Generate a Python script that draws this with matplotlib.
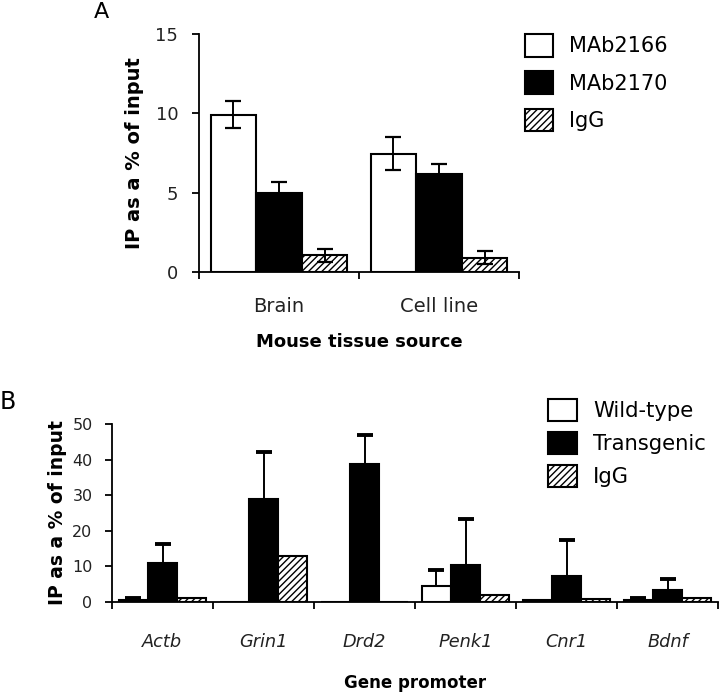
import numpy as np
import matplotlib
matplotlib.use("Agg")
import matplotlib.pyplot as plt
from matplotlib import font_manager

# fonts: narrow face for panel B if it is installed
have = {f.name for f in font_manager.fontManager.ttflist}
if 'Liberation Sans Narrow' in have:
    narrow, k = 'Liberation Sans Narrow', 1.0
else:
    narrow, k = 'DejaVu Sans', 0.8

plt.rcParams['font.family'] = ['DejaVu Sans']
plt.rcParams['hatch.linewidth'] = 1.0

# Panel A data
tissues = ['Brain', 'Cell line']
series_a = ['MAb2166', 'MAb2170', 'IgG']
mab2166 = [9.9, 7.45]
mab2166_err = [0.85, 1.05]
mab2170 = [4.95, 6.15]
mab2170_err = [0.7, 0.65]
igg_a = [1.05, 0.9]
igg_a_err = [0.4, 0.4]

# Panel B data (nan = no error bar shown)
genes = ['Actb', 'Grin1', 'Drd2', 'Penk1', 'Cnr1', 'Bdnf']
series_b = ['Wild-type', 'Transgenic', 'IgG']
wild = [0.7, 0.0, 0.0, 4.5, 0.7, 0.7]
wild_err = [0.4, np.nan, np.nan, 4.5, np.nan, 0.4]
trans = [10.9, 28.8, 38.8, 10.4, 7.3, 3.3]
trans_err = [5.4, 13.2, 8.1, 13.0, 10.2, 3.1]
igg_b = [1.1, 13.0, 0.0, 2.1, 0.8, 1.1]

W, H = 720, 698
fig = plt.figure(figsize=(W / 100, H / 100), dpi=100)

styles = [dict(facecolor='white', edgecolor='black'),
          dict(facecolor='black', edgecolor='black'),
          dict(facecolor='white', edgecolor='black', hatch='/////')]


def setup(ax, n):
    for s in ['top', 'right']:
        ax.spines[s].set_visible(False)
    for s in ['left', 'bottom']:
        ax.spines[s].set_linewidth(1.3)
    ax.set_xlim(-0.5, n - 0.5)
    ax.set_xticks(np.arange(n))
    ax.set_xticks(np.arange(n + 1) - 0.5, minor=True)
    ax.tick_params(axis='x', which='major', length=0)
    ax.tick_params(axis='x', which='minor', length=5, width=1.3, direction='out')
    ax.tick_params(axis='y', length=5, width=1.3, direction='out')


# ---- Panel A ----
axA = fig.add_axes([199 / W, 1 - 272 / H, 320 / W, 238 / H])
setup(axA, len(tissues))
x = np.arange(len(tissues))
w = 0.285
vals_a = [mab2166, mab2170, igg_a]
errs_a = [mab2166_err, mab2170_err, igg_a_err]
handles_a = []
for i in range(3):
    b = axA.bar(x + (i - 1) * w, vals_a[i], w, linewidth=1.5, label=series_a[i],
                yerr=errs_a[i], capsize=6,
                error_kw=dict(ecolor='black', elinewidth=1.4, capthick=1.6),
                **styles[i])
    handles_a.append(b)
axA.set_ylim(0, 15)
axA.set_yticks([0, 5, 10, 15])
axA.set_xticklabels(tissues, fontsize=14, color='#222222')
axA.tick_params(axis='x', pad=18)
axA.tick_params(axis='y', labelsize=13, pad=10, labelcolor='#222222')
axA.set_xlabel('Mouse tissue source', fontsize=13, fontweight='bold', labelpad=12)
axA.set_ylabel('IP as a % of input', fontsize=14, fontweight='bold', labelpad=8)
fig.legend(handles=handles_a, labels=series_a, loc='upper left',
           bbox_to_anchor=(525 / W, 1 - 34 / H), borderaxespad=0, borderpad=0,
           frameon=False, fontsize=15, handlelength=1.35, handleheight=1.3,
           labelspacing=0.7, handletextpad=0.75)
fig.text(101 / W, 1 - 12 / H, 'A', fontsize=16, ha='center', va='center')

# ---- Panel B ----
axB = fig.add_axes([112 / W, 1 - 602 / H, 606 / W, 178 / H])
setup(axB, len(genes))
x = np.arange(len(genes))
w = 0.29
vals_b = [wild, trans, igg_b]
errs_b = [wild_err, trans_err, None]
handles_b = []
for i in range(3):
    kw = {}
    if errs_b[i] is not None:
        kw = dict(yerr=[np.zeros(len(genes)), errs_b[i]], capsize=5.5,
                  error_kw=dict(ecolor='black', elinewidth=1.4, capthick=2.8))
    b = axB.bar(x + (i - 1) * w, vals_b[i], w, linewidth=1.5, label=series_b[i],
                **kw, **styles[i])
    if errs_b[i] is not None:
        # only the upper cap is drawn in the original
        b.errorbar.lines[1][0].set_visible(False)
    handles_b.append(b)
axB.set_ylim(0, 50)
axB.set_yticks([0, 10, 20, 30, 40, 50])
axB.set_xticklabels(genes, fontsize=16 * k, style='italic', family=narrow,
                    color='#222222')
axB.tick_params(axis='x', pad=22)
axB.tick_params(axis='y', labelsize=11.5, pad=9, labelcolor='#222222')
axB.set_xlabel('Gene promoter', fontsize=12, fontweight='bold', labelpad=17)
axB.set_ylabel('IP as a % of input', fontsize=13.5, fontweight='bold', labelpad=4)
fs_b = 19 * k
fig.legend(handles=handles_b, labels=series_b, loc='upper left',
           bbox_to_anchor=(548 / W, 1 - 399 / H), borderaxespad=0, borderpad=0,
           frameon=False, handlelength=29 / (fs_b * 1.389),
           handleheight=26 / (fs_b * 1.389),
           labelspacing=11 / (fs_b * 1.389), handletextpad=16 / (fs_b * 1.389),
           prop=dict(family=narrow, size=fs_b))
fig.text(8 / W, 1 - 402 / H, 'B', fontsize=17, ha='center', va='center')

fig.savefig('out.png', dpi=100)
